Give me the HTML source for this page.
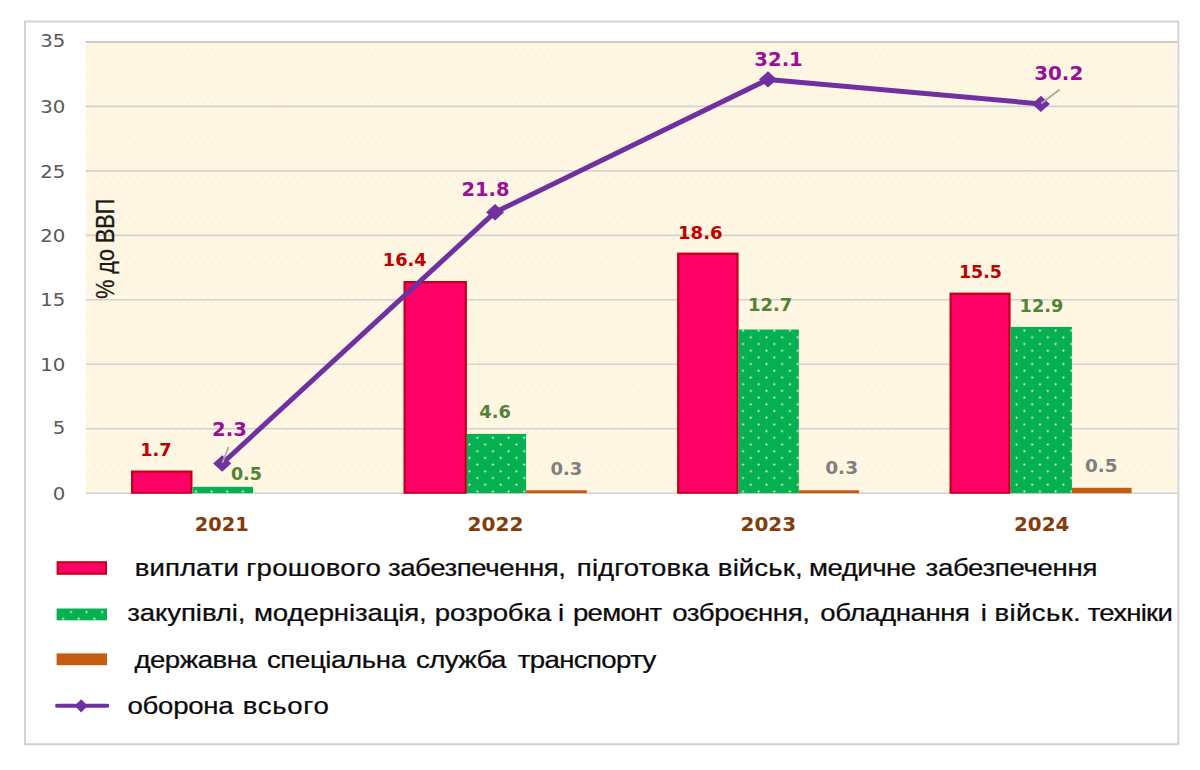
<!DOCTYPE html>
<html lang="uk">
<head>
<meta charset="utf-8">
<title>Видатки на оборону, % до ВВП</title>
<style>
html,body{margin:0;padding:0;background:#fff;}
body{width:1200px;height:770px;overflow:hidden;}
svg{display:block;}
.ax{font-family:"DejaVu Sans","Liberation Sans",sans-serif;font-size:18.4px;fill:#595959;}
.dl{font-family:"DejaVu Sans","Liberation Sans",sans-serif;font-weight:bold;font-size:18.2px;}
.cat{font-family:"DejaVu Sans","Liberation Sans",sans-serif;font-weight:bold;font-size:19px;}
.lg{font-family:"Liberation Sans",sans-serif;font-size:24px;fill:#0a0a0a;stroke:#0a0a0a;stroke-width:0.25px;}
.yt{font-family:"Liberation Sans",sans-serif;font-size:26.5px;fill:#1a1a1a;stroke:#1a1a1a;stroke-width:0.35px;}
</style>
</head>
<body>
<svg width="1200" height="770" viewBox="0 0 1200 770">
<defs>
<pattern id="pg" x="-0.9" y="0.8" width="15.63" height="13.4" patternUnits="userSpaceOnUse">
<rect width="15.63" height="13.4" fill="#05b050"/>
<circle cx="1.5" cy="1.5" r="1.05" fill="#e2f8ea"/>
<circle cx="9.3" cy="8.2" r="1.05" fill="#e2f8ea"/>
</pattern>
<pattern id="pb" x="-0.9" y="0.8" width="7.815" height="13.4" patternUnits="userSpaceOnUse">
<rect width="7.815" height="13.4" fill="#fef6e1"/>
<circle cx="1.5" cy="1.5" r="1.05" fill="#fffefb"/>
<circle cx="5.4" cy="8.2" r="1.05" fill="#fffefb"/>
</pattern>
<clipPath id="cp"><rect x="0" y="0" width="1200" height="493.7"/></clipPath>
</defs>
<rect x="0" y="0" width="1200" height="770" fill="#ffffff"/>

<rect x="25" y="21.5" width="1153.3" height="722.7" fill="#ffffff" stroke="#d3d3d3" stroke-width="2"/>
<rect x="85.8" y="42.0" width="1091.5" height="451.2" fill="url(#pb)"/>
<line x1="85.8" x2="1177.3" y1="493.2" y2="493.2" stroke="#d2d2d2" stroke-width="1.6"/>
<line x1="85.8" x2="1177.3" y1="428.7" y2="428.7" stroke="#d2d2d2" stroke-width="1.6"/>
<line x1="85.8" x2="1177.3" y1="364.3" y2="364.3" stroke="#d2d2d2" stroke-width="1.6"/>
<line x1="85.8" x2="1177.3" y1="299.8" y2="299.8" stroke="#d2d2d2" stroke-width="1.6"/>
<line x1="85.8" x2="1177.3" y1="235.4" y2="235.4" stroke="#d2d2d2" stroke-width="1.6"/>
<line x1="85.8" x2="1177.3" y1="170.9" y2="170.9" stroke="#d2d2d2" stroke-width="1.6"/>
<line x1="85.8" x2="1177.3" y1="106.4" y2="106.4" stroke="#d2d2d2" stroke-width="1.6"/>
<line x1="85.8" x2="1177.3" y1="42.0" y2="42.0" stroke="#cbcbcb" stroke-width="2.2"/>
<text class="ax" transform="translate(65.4,500.4) scale(1.07,1)" text-anchor="end">0</text>
<text class="ax" transform="translate(65.4,434.4) scale(1.07,1)" text-anchor="end">5</text>
<text class="ax" transform="translate(65.4,370.6) scale(1.07,1)" text-anchor="end">10</text>
<text class="ax" transform="translate(65.4,306.1) scale(1.07,1)" text-anchor="end">15</text>
<text class="ax" transform="translate(65.4,241.7) scale(1.07,1)" text-anchor="end">20</text>
<text class="ax" transform="translate(65.4,177.7) scale(1.07,1)" text-anchor="end">25</text>
<text class="ax" transform="translate(65.4,112.6) scale(1.07,1)" text-anchor="end">30</text>
<text class="ax" transform="translate(65.4,47.4) scale(1.07,1)" text-anchor="end">35</text>
<text class="yt" transform="translate(114.3,298.8) rotate(-90)" textLength="100" lengthAdjust="spacingAndGlyphs">% до ВВП</text>
<g clip-path="url(#cp)">
<rect x="132.1" y="471.6" width="59.3" height="21.6" fill="#ff0066" stroke="#c00018" stroke-width="2.2"/>
<rect x="192.5" y="486.8" width="60.5" height="6.4" fill="url(#pg)"/>
<rect x="404.6" y="282.1" width="61.2" height="211.1" fill="#ff0066" stroke="#c00018" stroke-width="2.2"/>
<rect x="466.9" y="433.9" width="59.2" height="59.3" fill="url(#pg)"/>
<rect x="526.1" y="490.3" width="60.7" height="2.9" fill="#c55a11"/>
<rect x="678.2" y="253.7" width="59.3" height="239.5" fill="#ff0066" stroke="#c00018" stroke-width="2.2"/>
<rect x="738.6" y="329.5" width="60.2" height="163.7" fill="url(#pg)"/>
<rect x="798.8" y="490.3" width="60.3" height="2.9" fill="#c55a11"/>
<rect x="950.6" y="293.7" width="58.9" height="199.5" fill="#ff0066" stroke="#c00018" stroke-width="2.2"/>
<rect x="1010.6" y="326.9" width="61.3" height="166.3" fill="url(#pg)"/>
<rect x="1071.9" y="487.8" width="59.7" height="5.4" fill="#c55a11"/>
</g>
<polyline points="222.2,463.5 495.1,212.2 768.0,79.4 1040.9,103.9" fill="none" stroke="#7030a0" stroke-width="5.0" stroke-linejoin="round" stroke-linecap="round"/>
<polygon points="213.2,463.5 222.2,455.3 231.2,463.5 222.2,471.7" fill="#7030a0"/>
<polygon points="486.1,212.2 495.1,204.0 504.1,212.2 495.1,220.4" fill="#7030a0"/>
<polygon points="759.0,79.4 768.0,71.2 777.0,79.4 768.0,87.6" fill="#7030a0"/>
<polygon points="1031.9,103.9 1040.9,95.7 1049.9,103.9 1040.9,112.1" fill="#7030a0"/>
<line x1="222.3" y1="463" x2="228.5" y2="447" stroke="#a9a9a9" stroke-width="1.8"/>
<line x1="1041.3" y1="103.5" x2="1059.7" y2="89.5" stroke="#a9a9a9" stroke-width="1.9"/>
<text class="dl" x="140.28" y="456.2" textLength="31.40" lengthAdjust="spacingAndGlyphs" style="font-size:17.5px" fill="#c00000">1.7</text>
<text class="dl" x="212.07" y="435.8" textLength="34.74" lengthAdjust="spacingAndGlyphs" style="font-size:19.2px" fill="#990f99">2.3</text>
<text class="dl" x="230.93" y="479.8" textLength="31.03" lengthAdjust="spacingAndGlyphs" style="font-size:17.6px" fill="#548235">0.5</text>
<text class="dl" x="382.83" y="266.1" textLength="43.69" lengthAdjust="spacingAndGlyphs" style="font-size:17.5px" fill="#c00000">16.4</text>
<text class="dl" x="461.53" y="196.2" textLength="48.02" lengthAdjust="spacingAndGlyphs" style="font-size:19.2px" fill="#990f99">21.8</text>
<text class="dl" x="479.31" y="418.4" textLength="31.57" lengthAdjust="spacingAndGlyphs" style="font-size:17.6px" fill="#548235">4.6</text>
<text class="dl" x="550.41" y="475.2" textLength="31.86" lengthAdjust="spacingAndGlyphs" style="font-size:17.5px" fill="#7f7f7f">0.3</text>
<text class="dl" x="678.00" y="238.7" textLength="44.57" lengthAdjust="spacingAndGlyphs" style="font-size:17.5px" fill="#c00000">18.6</text>
<text class="dl" x="754.30" y="65.5" textLength="48.47" lengthAdjust="spacingAndGlyphs" style="font-size:19.2px" fill="#990f99">32.1</text>
<text class="dl" x="748.00" y="311.4" textLength="44.30" lengthAdjust="spacingAndGlyphs" style="font-size:17.6px" fill="#548235">12.7</text>
<text class="dl" x="825.21" y="474.4" textLength="32.83" lengthAdjust="spacingAndGlyphs" style="font-size:17.5px" fill="#7f7f7f">0.3</text>
<text class="dl" x="958.90" y="277.8" textLength="43.16" lengthAdjust="spacingAndGlyphs" style="font-size:17.5px" fill="#c00000">15.5</text>
<text class="dl" x="1034.21" y="79.8" textLength="49.06" lengthAdjust="spacingAndGlyphs" style="font-size:19.2px" fill="#990f99">30.2</text>
<text class="dl" x="1019.60" y="312.3" textLength="43.67" lengthAdjust="spacingAndGlyphs" style="font-size:17.6px" fill="#548235">12.9</text>
<text class="dl" x="1085.07" y="471.7" textLength="32.63" lengthAdjust="spacingAndGlyphs" style="font-size:17.5px" fill="#7f7f7f">0.5</text>
<text class="cat" x="194.80" y="530.8" textLength="53.82" lengthAdjust="spacingAndGlyphs" style="font-size:19.6px" fill="#843c0c">2021</text>
<text class="cat" x="467.63" y="530.8" textLength="55.83" lengthAdjust="spacingAndGlyphs" style="font-size:19.6px" fill="#843c0c">2022</text>
<text class="cat" x="740.54" y="530.8" textLength="55.57" lengthAdjust="spacingAndGlyphs" style="font-size:19.6px" fill="#843c0c">2023</text>
<text class="cat" x="1013.95" y="530.8" textLength="55.39" lengthAdjust="spacingAndGlyphs" style="font-size:19.6px" fill="#843c0c">2024</text>
<rect x="57.6" y="562.2" width="48.4" height="11.6" fill="#ff0066" stroke="#c00018" stroke-width="2"/>
<rect x="56.6" y="608.5" width="50.4" height="11.8" fill="url(#pg)"/>
<rect x="56.6" y="653.4" width="50.4" height="11.8" fill="#c55a11"/>
<line x1="57" x2="107.3" y1="705.8" y2="705.8" stroke="#7030a0" stroke-width="4" stroke-linecap="round"/>
<polygon points="74.7,705.8 81.2,699.2 87.7,705.8 81.2,712.4" fill="#7030a0"/>
<text class="lg" transform="scale(1.15,1)" y="575.7">
<tspan x="117.12" textLength="90.70" lengthAdjust="spacing">виплати</tspan> <tspan x="214.14" textLength="117.15" lengthAdjust="spacing">грошового</tspan> <tspan x="337.32" textLength="154.89" lengthAdjust="spacing">забезпечення,</tspan> <tspan x="501.63" textLength="115.26" lengthAdjust="spacing">підготовка</tspan> <tspan x="624.25" textLength="73.66" lengthAdjust="spacing">військ,</tspan> <tspan x="703.45" textLength="93.21" lengthAdjust="spacing">медичне</tspan> <tspan x="804.88" textLength="149.35" lengthAdjust="spacing">забезпечення</tspan>
</text>
<text class="lg" transform="scale(1.15,1)" y="621.2">
<tspan x="110.57" textLength="102.95" lengthAdjust="spacing">закупівлі,</tspan> <tspan x="220.90" textLength="150.23" lengthAdjust="spacing">модернізація,</tspan> <tspan x="378.08" textLength="101.42" lengthAdjust="spacing">розробка</tspan> <tspan x="485.18" textLength="5.13" lengthAdjust="spacing">і</tspan> <tspan x="498.25" textLength="77.60" lengthAdjust="spacing">ремонт</tspan> <tspan x="584.47" textLength="119.87" lengthAdjust="spacing">озброєння,</tspan> <tspan x="713.35" textLength="130.20" lengthAdjust="spacing">обладнання</tspan> <tspan x="852.79" textLength="5.57" lengthAdjust="spacing">і</tspan> <tspan x="864.89" textLength="74.88" lengthAdjust="spacing">військ.</tspan> <tspan x="945.86" textLength="73.99" lengthAdjust="spacing">техніки</tspan>
</text>
<text class="lg" transform="scale(1.15,1)" y="668.0">
<tspan x="116.87" textLength="106.40" lengthAdjust="spacing">державна</tspan> <tspan x="232.09" textLength="120.97" lengthAdjust="spacing">спеціальна</tspan> <tspan x="361.71" textLength="78.70" lengthAdjust="spacing">служба</tspan> <tspan x="450.21" textLength="120.49" lengthAdjust="spacing">транспорту</tspan>
</text>
<text class="lg" transform="scale(1.15,1)" y="714.3">
<tspan x="110.80" textLength="92.43" lengthAdjust="spacing">оборона</tspan> <tspan x="211.10" textLength="74.83" lengthAdjust="spacing">всього</tspan>
</text>
</svg>
</body>
</html>
